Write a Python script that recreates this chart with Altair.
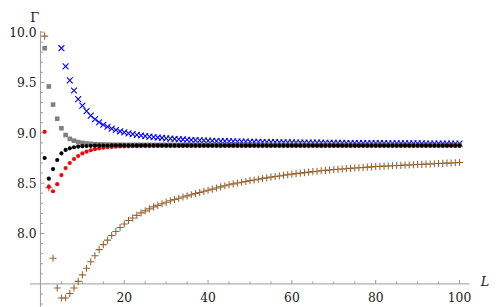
import altair as alt
import pandas as pd

# ---------------- data ----------------
L_all = list(range(1, 101))

brown = [
    9.96, 8.455, 7.755, 7.46, 7.36, 7.36, 7.405, 7.46, 7.525, 7.59,
    7.655, 7.72, 7.78, 7.84, 7.89, 7.935, 7.98, 8.02, 8.06, 8.095,
    8.13, 8.155, 8.18, 8.205, 8.225, 8.245, 8.265, 8.28, 8.295, 8.31,
    8.325, 8.338, 8.35, 8.362, 8.374, 8.385, 8.397, 8.408, 8.419, 8.43,
    8.441, 8.452, 8.463, 8.474, 8.485, 8.493, 8.501, 8.509, 8.517, 8.525,
    8.532, 8.539, 8.546, 8.553, 8.56, 8.566, 8.572, 8.578, 8.584, 8.59,
    8.595, 8.60, 8.605, 8.61, 8.615, 8.619, 8.623, 8.627, 8.631, 8.635,
    8.638, 8.641, 8.644, 8.647, 8.65, 8.653, 8.656, 8.659, 8.662, 8.665,
    8.667, 8.669, 8.671, 8.673, 8.675, 8.677, 8.679, 8.681, 8.683, 8.685,
    8.687, 8.689, 8.691, 8.693, 8.695, 8.697, 8.699, 8.701, 8.703, 8.705,
]

blue_L = list(range(5, 101))
blue = [
    9.84, 9.66, 9.52, 9.42, 9.335, 9.27,
    9.215, 9.17, 9.135, 9.105, 9.08, 9.06, 9.042, 9.028, 9.015, 9.004,
    8.995, 8.987, 8.98, 8.973, 8.967, 8.962, 8.957, 8.953, 8.949, 8.945,
    8.942, 8.939, 8.936, 8.934, 8.931, 8.929, 8.927, 8.925, 8.924, 8.922,
    8.921, 8.919, 8.918, 8.917, 8.916, 8.915, 8.914, 8.913, 8.912, 8.911,
    8.910, 8.910, 8.909, 8.908, 8.908, 8.907, 8.906, 8.906, 8.905, 8.905,
    8.904, 8.904, 8.903, 8.903, 8.902, 8.902, 8.902, 8.901, 8.901, 8.900,
    8.900, 8.900, 8.899, 8.899, 8.899, 8.898, 8.898, 8.898, 8.897, 8.897,
    8.897, 8.897, 8.896, 8.896, 8.896, 8.896, 8.895, 8.895, 8.895, 8.895,
    8.895, 8.894, 8.894, 8.894, 8.894, 8.894, 8.893, 8.893, 8.893, 8.893,
]

gray = [
    9.84, 9.46, 9.28, 9.14, 9.045, 8.978, 8.94, 8.922, 8.908, 8.90,
    8.894, 8.89, 8.887, 8.885, 8.884, 8.883, 8.882, 8.881, 8.881, 8.88,
    8.88, 8.88, 8.88, 8.88, 8.88, 8.88, 8.88, 8.88, 8.88, 8.88,
    8.88, 8.88, 8.88, 8.88, 8.88, 8.88, 8.88, 8.88, 8.88, 8.88,
    8.88, 8.88, 8.88, 8.88, 8.88, 8.88, 8.88, 8.88, 8.88, 8.88,
    8.88, 8.88, 8.88, 8.88, 8.88, 8.88, 8.88, 8.88, 8.88, 8.88,
    8.88, 8.88, 8.88, 8.88, 8.88, 8.88, 8.88, 8.88, 8.88, 8.88,
    8.88, 8.88, 8.88, 8.88, 8.88, 8.88, 8.88, 8.88, 8.88, 8.88,
    8.88, 8.88, 8.88, 8.88, 8.88, 8.88, 8.88, 8.88, 8.88, 8.88,
    8.88, 8.88, 8.88, 8.88, 8.88, 8.88, 8.88, 8.88, 8.88, 8.88,
]

black = [
    8.75, 8.545, 8.64, 8.73, 8.795, 8.83, 8.846, 8.857, 8.863, 8.867,
    8.869, 8.871, 8.872, 8.873, 8.874, 8.874, 8.875, 8.875, 8.875, 8.875,
    8.875, 8.875, 8.875, 8.875, 8.875, 8.875, 8.875, 8.875, 8.875, 8.875,
    8.875, 8.875, 8.875, 8.875, 8.875, 8.875, 8.875, 8.875, 8.875, 8.875,
    8.875, 8.875, 8.875, 8.875, 8.875, 8.875, 8.875, 8.875, 8.875, 8.875,
    8.875, 8.875, 8.875, 8.875, 8.875, 8.875, 8.875, 8.875, 8.875, 8.875,
    8.875, 8.875, 8.875, 8.875, 8.875, 8.875, 8.875, 8.875, 8.875, 8.875,
    8.875, 8.875, 8.875, 8.875, 8.875, 8.875, 8.875, 8.875, 8.875, 8.875,
    8.875, 8.875, 8.875, 8.875, 8.875, 8.875, 8.875, 8.875, 8.875, 8.875,
    8.875, 8.875, 8.875, 8.875, 8.875, 8.875, 8.875, 8.875, 8.875, 8.875,
]

red = [
    9.01, 8.465, 8.42, 8.49, 8.58, 8.65, 8.70, 8.74, 8.77, 8.795,
    8.813, 8.827, 8.838, 8.846, 8.852, 8.857, 8.86, 8.862, 8.864, 8.865,
    8.866, 8.867, 8.867, 8.868, 8.868, 8.868, 8.868, 8.868, 8.868, 8.868,
    8.868, 8.868, 8.868, 8.868, 8.868, 8.868, 8.868, 8.868, 8.868, 8.868,
    8.868, 8.868, 8.868, 8.868, 8.868, 8.868, 8.868, 8.868, 8.868, 8.868,
    8.868, 8.868, 8.868, 8.868, 8.868, 8.868, 8.868, 8.868, 8.868, 8.868,
    8.868, 8.868, 8.868, 8.868, 8.868, 8.868, 8.868, 8.868, 8.868, 8.868,
    8.868, 8.868, 8.868, 8.868, 8.868, 8.868, 8.868, 8.868, 8.868, 8.868,
    8.868, 8.868, 8.868, 8.868, 8.868, 8.868, 8.868, 8.868, 8.868, 8.868,
    8.868, 8.868, 8.868, 8.868, 8.868, 8.868, 8.868, 8.868, 8.868, 8.868,
]

x_major = [20, 40, 60, 80, 100]
x_labels = ["20", "40", "60", "80", "100"]
x_minor = [5, 10, 15, 25, 30, 35, 45, 50, 55, 65, 70, 75, 85, 90, 95]
y_major = [8.0, 8.5, 9.0, 9.5, 10.0]
y_labels = ["8.0", "8.5", "9.0", "9.5", "10.0"]
y_minor = [7.3, 7.4, 7.6, 7.7, 7.8, 7.9, 8.1, 8.2, 8.3, 8.4, 8.6, 8.7, 8.8, 8.9,
           9.1, 9.2, 9.3, 9.4, 9.6, 9.7, 9.8, 9.9]

# ---------------- chart ----------------
FONT = "DejaVu Serif"
AXC = "#999999"
TXT = "#1a1a1a"
xs = alt.Scale(domain=[0, 100], nice=False, zero=False)
ys = alt.Scale(domain=[7.5, 10.0], nice=False, zero=False)


def X(f):
    return alt.X(f, type="quantitative", scale=xs, axis=None)


def Y(f):
    return alt.Y(f, type="quantitative", scale=ys, axis=None)


def XD(v):
    return alt.XDatum(v, type="quantitative", scale=xs, axis=None)


def YD(v):
    return alt.YDatum(v, type="quantitative", scale=ys, axis=None)


def X2D(v):
    return alt.X2Datum(v)


def Y2D(v):
    return alt.Y2Datum(v)


one = pd.DataFrame({"a": [0]})

x_axis_line = alt.Chart(one).mark_rule(color=AXC, strokeWidth=1, clip=False).encode(
    x=XD(-2.5), x2=X2D(102.4), y=YD(7.5))
y_axis_line = alt.Chart(one).mark_rule(color=AXC, strokeWidth=1, clip=False).encode(
    x=XD(0), y=YD(7.2), y2=Y2D(10.01))

xmaj = alt.Chart(pd.DataFrame({"v": x_major, "t": x_labels}))
xmin = alt.Chart(pd.DataFrame({"v": x_minor}))
ymaj = alt.Chart(pd.DataFrame({"v": y_major, "t": y_labels}))
ymin = alt.Chart(pd.DataFrame({"v": y_minor}))

x_major_ticks = xmaj.mark_rule(color=AXC, y2Offset=-4, clip=False).encode(
    x=X("v"), y=YD(7.5), y2=Y2D(7.5))
x_minor_ticks = xmin.mark_rule(color=AXC, y2Offset=-2.5, clip=False).encode(
    x=X("v"), y=YD(7.5), y2=Y2D(7.5))
y_major_ticks = ymaj.mark_rule(color=AXC, x2Offset=4, clip=False).encode(
    y=Y("v"), x=XD(0), x2=X2D(0))
y_minor_ticks = ymin.mark_rule(color=AXC, x2Offset=2.5, clip=False).encode(
    y=Y("v"), x=XD(0), x2=X2D(0))

x_tick_text = xmaj.mark_text(font=FONT, fontSize=12.5, color=TXT, align="center",
                             baseline="alphabetic", dy=18, clip=False).encode(
    x=X("v"), y=YD(7.5), text="t:N")
y_tick_text = ymaj.mark_text(font=FONT, fontSize=12.5, color=TXT, align="right",
                             baseline="middle", dx=-4, dy=1, clip=False).encode(
    x=XD(0), y=Y("v"), text="t:N")

gamma = alt.Chart(one).mark_text(text="Γ", font=FONT, fontSize=13, color=TXT,
                                 align="center", baseline="alphabetic", dx=-6, dy=-10,
                                 clip=False).encode(x=XD(0), y=YD(10.0))
ell = alt.Chart(one).mark_text(text="L", font=FONT, fontSize=13, fontStyle="italic",
                               color=TXT, align="center", baseline="middle",
                               dx=26, dy=-2, clip=False).encode(x=XD(100), y=YD(7.5))

plus_path = "M-1,0L1,0M0,-1L0,1"
cross_path = "M-1,-1L1,1M-1,1L1,-1"

brown_pts = alt.Chart(pd.DataFrame({"L": L_all, "g": brown})).mark_point(
    shape=plus_path, filled=False, size=52, color="#996633", strokeWidth=1.1,
    opacity=1, clip=False).encode(x=X("L"), y=Y("g"))
blue_pts = alt.Chart(pd.DataFrame({"L": blue_L, "g": blue})).mark_point(
    shape=cross_path, filled=False, size=36, color="#0000ff", strokeWidth=1.1,
    opacity=1, clip=False).encode(x=X("L"), y=Y("g"))
gray_pts = alt.Chart(pd.DataFrame({"L": L_all, "g": gray})).mark_square(
    size=22, color="#808080", opacity=1, clip=False).encode(x=X("L"), y=Y("g"))
red_pts = alt.Chart(pd.DataFrame({"L": L_all, "g": red})).mark_circle(
    size=18, color="#ff0000", opacity=1, clip=False).encode(x=X("L"), y=Y("g"))
black_pts = alt.Chart(pd.DataFrame({"L": L_all, "g": black})).mark_circle(
    size=18, color="#000000", opacity=1, clip=False).encode(x=X("L"), y=Y("g"))

chart = alt.layer(
    x_axis_line, y_axis_line, x_major_ticks, x_minor_ticks, y_major_ticks, y_minor_ticks,
    x_tick_text, y_tick_text, gamma, ell,
    brown_pts, blue_pts, gray_pts, red_pts, black_pts,
).properties(
    width=426, height=256,
    autosize=alt.AutoSizeParams(type="none"),
    padding={"left": 33, "top": 22, "right": 31, "bottom": 21},
).configure_view(stroke=None)

chart.save("out.html", embed_options={"renderer": "svg", "actions": False})
